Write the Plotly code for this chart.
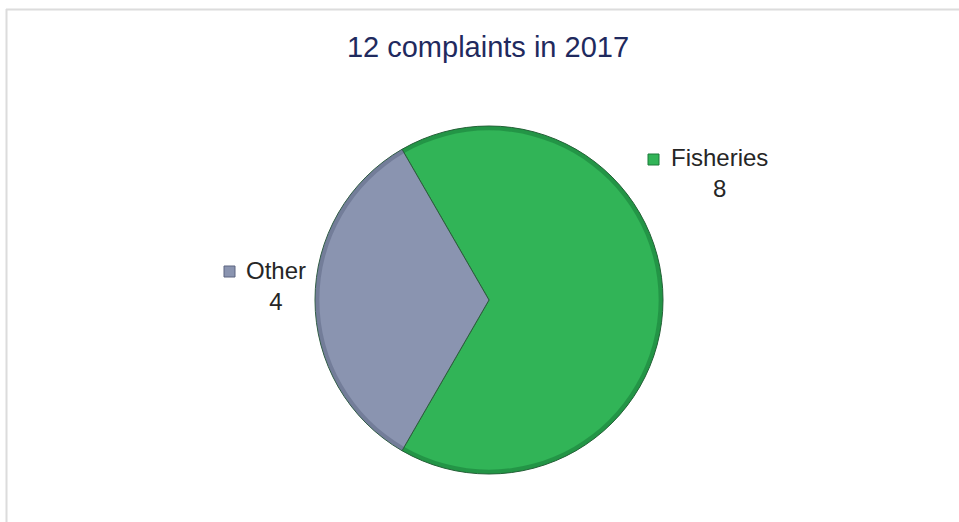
import plotly.graph_objects as go

categories = ["Fisheries", "Other"]
values = [8, 4]
colors = ["#31b457", "#8a94b0"]
rim_colors = ["rgba(20,110,50,0.45)", "rgba(80,90,120,0.4)"]
edge_colors = ["#1d7a3b", "#5d6580"]
title_text = "12 complaints in 2017"

W, H = 959, 522

def px(x):
    return x / W

def py(y):
    return 1 - y / H

dom = dict(x=[px(489 - 174), px(489 + 174)], y=[py(300 + 174), py(300 - 174)])

fig = go.Figure()
fig.add_trace(go.Pie(
    labels=categories,
    values=values,
    sort=False,
    direction="clockwise",
    rotation=-30,
    textinfo="none",
    marker=dict(colors=colors, line=dict(color="#2a5e3a", width=1)),
    domain=dom,
    showlegend=False,
    hoverinfo="label+value",
))
# subtle darker rim for bevel look
fig.add_trace(go.Pie(
    labels=categories,
    values=values,
    sort=False,
    direction="clockwise",
    rotation=-30,
    hole=0.975,
    textinfo="none",
    marker=dict(colors=rim_colors, line=dict(width=0)),
    domain=dom,
    showlegend=False,
    hoverinfo="skip",
))

label_pos = {"Fisheries": (719, 173), "Other": (276, 286)}
key_pos = {"Fisheries": (648, 154), "Other": (224, 266)}

shapes = [
    dict(type="line", xref="paper", yref="paper", x0=px(6), x1=1, y0=py(9.5), y1=py(9.5),
         line=dict(color="#dcdcdc", width=2)),
    dict(type="line", xref="paper", yref="paper", x0=px(6.5), x1=px(6.5), y0=py(9), y1=0,
         line=dict(color="#dcdcdc", width=2)),
]
annotations = []
for cat, val, col, ec in zip(categories, values, colors, edge_colors):
    lx, ly = label_pos[cat]
    annotations.append(dict(
        x=px(lx), y=py(ly), xref="paper", yref="paper",
        text=f"{cat}<br>{val}", showarrow=False, align="center",
        xanchor="center", yanchor="middle",
        font=dict(family="Liberation Sans, Arial, sans-serif", size=24, color="#262626"),
    ))
    kx, ky = key_pos[cat]
    shapes.append(dict(type="rect", xref="paper", yref="paper",
                       x0=px(kx), x1=px(kx + 11), y0=py(ky + 11), y1=py(ky),
                       fillcolor=col, line=dict(color=ec, width=1)))

fig.update_layout(
    width=W, height=H,
    margin=dict(l=0, r=0, t=0, b=0),
    paper_bgcolor="white",
    plot_bgcolor="white",
    title=dict(text=title_text, x=px(488), xanchor="center", y=py(47), yanchor="middle",
               yref="container",
               font=dict(family="Liberation Sans, Arial, sans-serif", size=29, color="#1f2a5e")),
    shapes=shapes,
    annotations=annotations,
)

fig.write_html("out.html",
               config={"displayModeBar": False},
               post_script="document.body.style.margin='0';document.body.style.overflow='hidden';")
